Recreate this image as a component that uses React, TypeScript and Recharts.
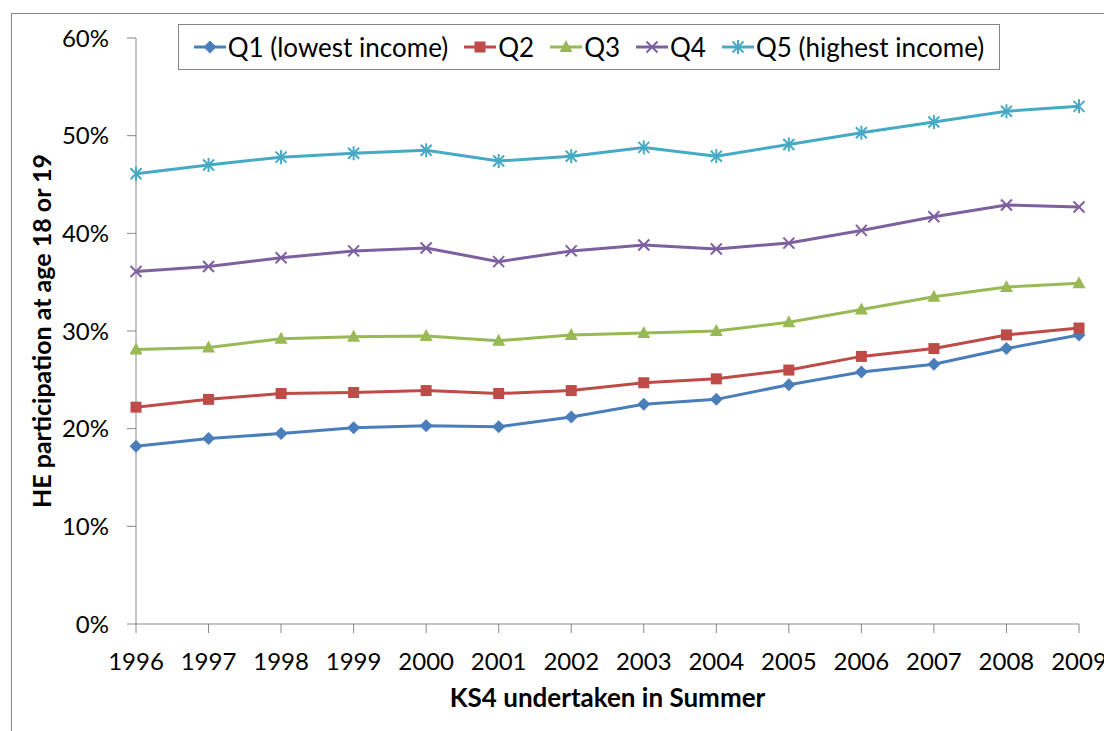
import { Label, Legend, Line, LineChart, XAxis, YAxis } from "recharts";

const years = ["1996", "1997", "1998", "1999", "2000", "2001", "2002", "2003", "2004", "2005", "2006", "2007", "2008", "2009"];
const q1 = [18.2, 19.0, 19.5, 20.1, 20.3, 20.2, 21.2, 22.5, 23.0, 24.5, 25.8, 26.6, 28.2, 29.6];
const q2 = [22.2, 23.0, 23.6, 23.7, 23.9, 23.6, 23.9, 24.7, 25.1, 26.0, 27.4, 28.2, 29.6, 30.3];
const q3 = [28.1, 28.3, 29.2, 29.4, 29.5, 29.0, 29.6, 29.8, 30.0, 30.9, 32.2, 33.5, 34.5, 34.9];
const q4 = [36.1, 36.6, 37.5, 38.2, 38.5, 37.1, 38.2, 38.8, 38.4, 39.0, 40.3, 41.7, 42.9, 42.7];
const q5 = [46.1, 47.0, 47.8, 48.2, 48.5, 47.4, 47.9, 48.8, 47.9, 49.1, 50.3, 51.4, 52.5, 53.0];
const yTicks = [0, 10, 20, 30, 40, 50, 60];

type Shape = "diamond" | "square" | "triangle" | "cross" | "star";

const series: { key: string; name: string; color: string; shape: Shape }[] = [
  { key: "q1", name: "Q1 (lowest income)", color: "#4a7ebb", shape: "diamond" },
  { key: "q2", name: "Q2", color: "#be4b48", shape: "square" },
  { key: "q3", name: "Q3", color: "#98b954", shape: "triangle" },
  { key: "q4", name: "Q4", color: "#7d60a0", shape: "cross" },
  { key: "q5", name: "Q5 (highest income)", color: "#46aac5", shape: "star" },
];

const data = years.map((year, i) => ({ year, q1: q1[i], q2: q2[i], q3: q3[i], q4: q4[i], q5: q5[i] }));

const font = "Lato, 'Open Sans', sans-serif";
const axisGrey = "#868686";

function Marker({ shape, cx, cy, color }: { shape: Shape; cx: number; cy: number; color: string }) {
  switch (shape) {
    case "diamond":
      return <polygon points={`${cx},${cy - 6.5} ${cx + 6.5},${cy} ${cx},${cy + 6.5} ${cx - 6.5},${cy}`} fill={color} />;
    case "square":
      return <rect x={cx - 5.5} y={cy - 5.5} width={11} height={11} fill={color} />;
    case "triangle":
      return <polygon points={`${cx},${cy - 7} ${cx + 6.5},${cy + 5} ${cx - 6.5},${cy + 5}`} fill={color} />;
    case "cross":
      return (
        <g stroke={color} strokeWidth={2}>
          <line x1={cx - 5.5} y1={cy - 5.5} x2={cx + 5.5} y2={cy + 5.5} />
          <line x1={cx - 5.5} y1={cy + 5.5} x2={cx + 5.5} y2={cy - 5.5} />
        </g>
      );
    default:
      return (
        <g stroke={color} strokeWidth={2}>
          <line x1={cx - 5.5} y1={cy - 5.5} x2={cx + 5.5} y2={cy + 5.5} />
          <line x1={cx - 5.5} y1={cy + 5.5} x2={cx + 5.5} y2={cy - 5.5} />
          <line x1={cx} y1={cy - 7} x2={cx} y2={cy + 7} />
        </g>
      );
  }
}

function LegendBox() {
  return (
    <div
      style={{
        boxSizing: "border-box",
        width: "100%",
        height: "100%",
        border: `1px solid ${axisGrey}`,
        background: "#fff",
        display: "flex",
        alignItems: "center",
        justifyContent: "center",
        gap: 16,
        fontFamily: font,
        fontSize: 26,
        color: "#000",
      }}
    >
      {series.map((s) => (
        <span key={s.key} style={{ display: "flex", alignItems: "center" }}>
          <svg width={32} height={16} style={{ marginRight: 2 }}>
            <line x1={0} y1={8} x2={32} y2={8} stroke={s.color} strokeWidth={3} />
            <Marker shape={s.shape} cx={16} cy={8} color={s.color} />
          </svg>
          {s.name}
        </span>
      ))}
    </div>
  );
}

export default function App() {
  return (
    <div style={{ position: "absolute", left: 0, top: 0, width: 1104, height: 731, overflow: "hidden", background: "#fff" }}>
      <div style={{ position: "absolute", left: 11, top: 13, width: 1200, height: 800, border: `1px solid ${axisGrey}` }} />
      <LineChart width={1104} height={731} data={data} margin={{ top: 38, right: 25, bottom: 0, left: 10 }}>
        <XAxis
          dataKey="year"
          interval={0}
          height={107}
          stroke={axisGrey}
          tickSize={9}
          tickMargin={20}
          tick={{ fill: "#000", fontSize: 24, fontFamily: font }}
        >
          <Label
            value="KS4 undertaken in Summer"
            position="insideBottom"
            offset={24}
            style={{ fill: "#000", fontSize: 26, fontWeight: 700, fontFamily: font }}
          />
        </XAxis>
        <YAxis
          width={126}
          domain={[0, 60]}
          ticks={yTicks}
          interval={0}
          stroke={axisGrey}
          tickSize={9}
          tickMargin={18}
          tickFormatter={(v) => `${v}%`}
          tick={{ fill: "#000", fontSize: 24, fontFamily: font }}
        >
          <Label
            content={({ viewBox }: any) => (
              <text
                x={41}
                y={viewBox.y + viewBox.height / 2}
                transform={`rotate(-90, 41, ${viewBox.y + viewBox.height / 2})`}
                textAnchor="middle"
                dominantBaseline="central"
                style={{ fill: "#000", fontSize: 25, fontWeight: 700, fontFamily: font }}
              >
                HE participation at age 18 or 19
              </text>
            )}
          />
        </YAxis>
        <Legend
          verticalAlign="middle"
          align="center"
          layout="horizontal"
          content={() => <LegendBox />}
          wrapperStyle={{ left: 178, top: 24, width: 822, height: 46 }}
        />
        {series.map((s) => (
          <Line
            key={s.key}
            dataKey={s.key}
            name={s.name}
            stroke={s.color}
            strokeWidth={3}
            isAnimationActive={false}
            dot={(p: any) => <Marker key={`${s.key}-${p.index}`} shape={s.shape} cx={p.cx} cy={p.cy} color={s.color} />}
            activeDot={false}
          />
        ))}
      </LineChart>
    </div>
  );
}
